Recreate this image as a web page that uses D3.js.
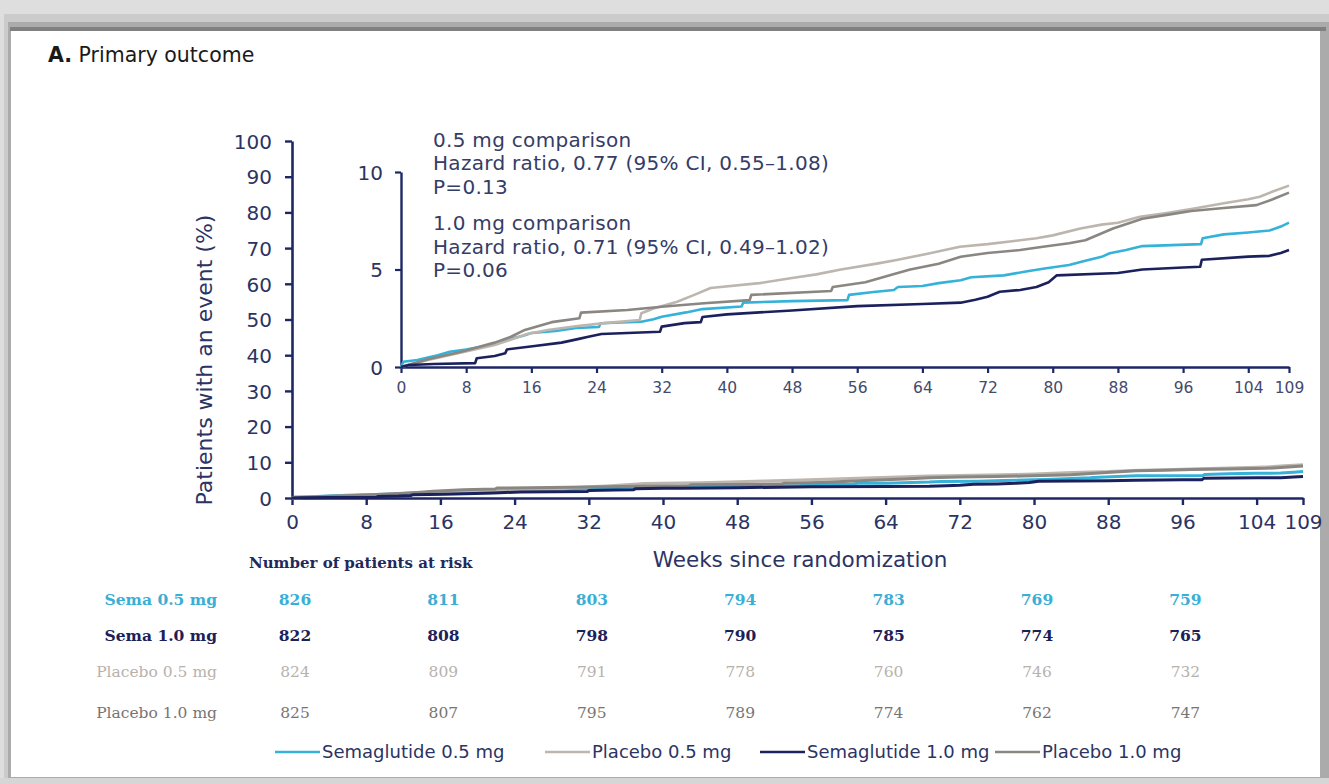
<!DOCTYPE html>
<html>
<head>
<meta charset="utf-8">
<script src="https://cdn.jsdelivr.net/npm/d3@7"></script>
<style>
  html, body { margin: 0; padding: 0; background: #dcdcdc; }
  svg { display: block; }
</style>
</head>
<body>
<svg id="chart" width="1329" height="784"></svg>
<script>
// Cumulative incidence (%) by week for each arm: [week, percent]
const sema05 = [[0,0],[0.3,0.27],[2,0.36],[4.5,0.6],[6,0.78],[8,0.9],[10,1.05],[11.5,1.2],[13,1.4],[15,1.6],[16,1.74],[19,1.85],[21.5,2.0],[24.3,2.05],[24.5,2.24],[29.5,2.32],[31,2.45],[32,2.58],[35,2.8],[37,2.97],[41.8,3.1],[42,3.3],[48,3.38],[54.8,3.43],[55,3.7],[58,3.85],[60.5,3.95],[61,4.1],[64,4.15],[66,4.3],[68.7,4.45],[70,4.6],[74,4.7],[76.7,4.9],[79,5.05],[82,5.23],[84,5.45],[86,5.65],[87,5.83],[89,6.0],[91,6.2],[98.2,6.3],[98.4,6.6],[101,6.8],[104,6.9],[106.6,7.0],[108,7.2],[109,7.4]];
const sema10 = [[0,0],[1,0.1],[4,0.15],[9.1,0.2],[9.3,0.45],[11.5,0.56],[12.8,0.7],[13,0.9],[16.4,1.08],[19.7,1.25],[21.7,1.43],[23,1.55],[24.6,1.69],[31.8,1.81],[32,2.07],[34.8,2.25],[36.8,2.3],[37,2.56],[40,2.7],[42,2.75],[48,2.9],[56,3.12],[64,3.23],[68.7,3.3],[70.5,3.45],[72,3.6],[73.5,3.86],[76,3.95],[78,4.1],[79.5,4.35],[80.5,4.7],[88,4.82],[91,5.0],[96,5.1],[98.1,5.14],[98.3,5.5],[104,5.66],[106.6,5.7],[108,5.85],[109,6.0]];
const placebo05 = [[0,0],[3.3,0.36],[7,0.7],[11.5,1.13],[15.5,1.69],[18,1.9],[21.7,2.1],[25,2.25],[29.3,2.41],[29.5,2.76],[31,3.0],[33.9,3.35],[36,3.7],[38,4.05],[44,4.3],[48,4.56],[51,4.75],[54,5.0],[58.4,5.3],[61,5.5],[64.5,5.8],[68.6,6.17],[72,6.3],[75,6.45],[78,6.6],[80,6.75],[83.4,7.1],[86,7.3],[88,7.4],[90.7,7.7],[94,7.9],[97,8.1],[101,8.4],[104,8.6],[105.4,8.73],[107,9.0],[109,9.3]];
const placebo10 = [[0,0],[3.3,0.4],[7.4,0.78],[11.5,1.25],[13.5,1.55],[15.2,1.9],[18.5,2.3],[21.9,2.5],[22.1,2.79],[27.8,2.92],[32,3.09],[37.2,3.27],[42.8,3.43],[43,3.7],[52.8,3.9],[53,4.1],[57,4.35],[60,4.7],[62.5,5.0],[66,5.3],[68.7,5.65],[72,5.85],[76,6.0],[78.8,6.17],[82,6.35],[84,6.5],[87.4,7.1],[91,7.6],[94,7.8],[97,8.0],[101,8.15],[105,8.3],[107,8.6],[109,8.94]];

// Axis ticks
const weekTicks = [0,8,16,24,32,40,48,56,64,72,80,88,96,104,109];
const mainYTicks = [0,10,20,30,40,50,60,70,80,90,100];
const insetYTicks = [0,5,10];

// Numbers at risk
const riskWeeks = [0,16,32,48,64,80,96];
const riskLabels = ["Sema 0.5 mg","Sema 1.0 mg","Placebo 0.5 mg","Placebo 1.0 mg"];
const riskSema05 = [826,811,803,794,783,769,759];
const riskSema10 = [822,808,798,790,785,774,765];
const riskPlacebo05 = [824,809,791,778,760,746,732];
const riskPlacebo10 = [825,807,795,789,774,762,747];

// Legend / annotations
const legendLabels = ["Semaglutide 0.5 mg","Placebo 0.5 mg","Semaglutide 1.0 mg","Placebo 1.0 mg"];
const annotation = ["0.5 mg comparison","Hazard ratio, 0.77 (95% CI, 0.55\u20131.08)","P=0.13",
                    "1.0 mg comparison","Hazard ratio, 0.71 (95% CI, 0.49\u20131.02)","P=0.06"];

const colors = { sema05: "#35b2da", sema10: "#1b215c", placebo05: "#bdb6ae", placebo10: "#8a8682" };
const axisColor = "#1e2766";
const textColor = "#2b3463";

const series = [
  { key: "sema05", data: sema05 },
  { key: "placebo05", data: placebo05 },
  { key: "placebo10", data: placebo10 },
  { key: "sema10", data: sema10 }
];

const svg = d3.select("#chart");
const sans = "'DejaVu Sans', Verdana, sans-serif";
const serif = "'DejaVu Serif', serif";

// ---- page frame ----
svg.append("rect").attr("x",0).attr("y",0).attr("width",1329).attr("height",784).attr("fill","#dedede");
svg.append("rect").attr("x",4).attr("y",14).attr("width",1325).attr("height",770).attr("fill","#cbcbcb");
svg.append("rect").attr("x",8).attr("y",22).attr("width",1321).attr("height",762).attr("fill","#ababab");
svg.append("rect").attr("x",10).attr("y",27).attr("width",1316).attr("height",4).attr("fill","#808080");
svg.append("rect").attr("x",11).attr("y",31).attr("width",1309).attr("height",746).attr("fill","#ffffff");
svg.append("rect").attr("x",0).attr("y",778).attr("width",1329).attr("height",6).attr("fill","#d6d6d6");

// ---- title ----
const title = svg.append("text").attr("x",48).attr("y",62)
  .attr("font-family",sans).attr("font-size",20.5).attr("fill","#1a1a1a");
title.append("tspan").attr("font-weight","bold").text("A.");
title.append("tspan").text(" Primary outcome");

// ---- main plot ----
const xMain = d3.scaleLinear().domain([0,109]).range([292,1303]);
const yMain = d3.scaleLinear().domain([0,100]).range([498,141]);

const gMainX = svg.append("g").attr("transform",`translate(0,${yMain(0)})`)
  .call(d3.axisBottom(xMain).tickValues(weekTicks).tickSize(7).tickPadding(10).tickSizeOuter(0));
const gMainY = svg.append("g").attr("transform",`translate(${xMain(0)},0)`)
  .call(d3.axisLeft(yMain).tickValues(mainYTicks).tickSize(7).tickPadding(13).tickSizeOuter(0));
[gMainX,gMainY].forEach(g => {
  g.select(".domain").attr("stroke",axisColor).attr("stroke-width",2.6);
  g.selectAll(".tick line").attr("stroke",axisColor).attr("stroke-width",2.4);
  g.selectAll(".tick text").attr("font-family",sans).attr("font-size",20).attr("fill",textColor);
});
gMainY.selectAll(".tick text").attr("dy","0.36em");

const lineMain = d3.line().x(d => xMain(d[0])).y(d => yMain(d[1]));
svg.append("g").selectAll("path").data(series).join("path")
  .attr("d", d => lineMain(d.data))
  .attr("fill","none").attr("stroke", d => colors[d.key]).attr("stroke-width",3)
  .attr("stroke-linejoin","round");

svg.append("text").attr("transform",`translate(212,360) rotate(-90)`)
  .attr("text-anchor","middle").attr("font-family",sans).attr("font-size",22).attr("fill",textColor)
  .text("Patients with an event (%)");

svg.append("text").attr("x",800).attr("y",567).attr("text-anchor","middle")
  .attr("font-family",sans).attr("font-size",21.5).attr("fill",textColor)
  .text("Weeks since randomization");

// ---- inset ----
const xIn = d3.scaleLinear().domain([0,109]).range([401,1289]);
const yIn = d3.scaleLinear().domain([0,10]).range([367,172]);

const gInX = svg.append("g").attr("transform",`translate(0,${yIn(0)})`)
  .call(d3.axisBottom(xIn).tickValues(weekTicks).tickSize(6).tickPadding(9).tickSizeOuter(0));
const gInY = svg.append("g").attr("transform",`translate(${xIn(0)},0)`)
  .call(d3.axisLeft(yIn).tickValues(insetYTicks).tickSize(6).tickPadding(12).tickSizeOuter(0));
[gInX,gInY].forEach(g => {
  g.select(".domain").attr("stroke",axisColor).attr("stroke-width",2.4);
  g.selectAll(".tick line").attr("stroke",axisColor).attr("stroke-width",2.2);
});
gInX.selectAll(".tick text").attr("font-family",sans).attr("font-size",15.5).attr("fill","#444a6c");
gInY.selectAll(".tick text").attr("font-family",sans).attr("font-size",20).attr("fill",textColor).attr("dy","0.36em");

const lineIn = d3.line().x(d => xIn(d[0])).y(d => yIn(d[1]));
svg.append("g").selectAll("path").data(series).join("path")
  .attr("d", d => lineIn(d.data))
  .attr("fill","none").attr("stroke", d => colors[d.key]).attr("stroke-width",2.6)
  .attr("stroke-linejoin","round");

// hazard ratio annotation
const annY = [147,170,194,230,254,277];
svg.append("g").selectAll("text").data(annotation).join("text")
  .attr("x",433).attr("y",(d,i) => annY[i])
  .attr("font-family",sans).attr("font-size",20).attr("letter-spacing",0.3).attr("fill","#353c66")
  .text(d => d);

// ---- numbers at risk ----
svg.append("text").attr("x",249).attr("y",568)
  .attr("font-family",serif).attr("font-weight","bold").attr("font-size",15).attr("fill","#1f2a5c")
  .text("Number of patients at risk");

const riskRows = [
  { label: riskLabels[0], values: riskSema05, color: "#3aaed6", weight: "bold" },
  { label: riskLabels[1], values: riskSema10, color: "#1c2157", weight: "bold" },
  { label: riskLabels[2], values: riskPlacebo05, color: "#b7b2ac", weight: "normal" },
  { label: riskLabels[3], values: riskPlacebo10, color: "#777573", weight: "normal" }
];
const rowY = [605,641,677,718];
riskRows.forEach((row,i) => {
  const g = svg.append("g").attr("font-family",serif).attr("font-size",15.5)
    .attr("font-weight",row.weight).attr("fill",row.color);
  g.append("text").attr("x",217).attr("y",rowY[i]).attr("text-anchor","end").text(row.label);
  g.selectAll("text.n").data(row.values).join("text").attr("class","n")
    .attr("x",(d,j) => xMain(riskWeeks[j]) + 3).attr("y",rowY[i])
    .attr("text-anchor","middle").text(d => d);
});

// ---- legend ----
const legendX = [275,545,760,995];
const legendKeys = ["sema05","placebo05","sema10","placebo10"];
const lg = svg.append("g");
legendLabels.forEach((lab,i) => {
  lg.append("line").attr("x1",legendX[i]).attr("x2",legendX[i]+45).attr("y1",752).attr("y2",752)
    .attr("stroke",colors[legendKeys[i]]).attr("stroke-width",2.6);
  lg.append("text").attr("x",legendX[i]+47).attr("y",758)
    .attr("font-family",sans).attr("font-size",18).attr("fill","#2b3463").text(lab);
});
</script>
</body>
</html>
